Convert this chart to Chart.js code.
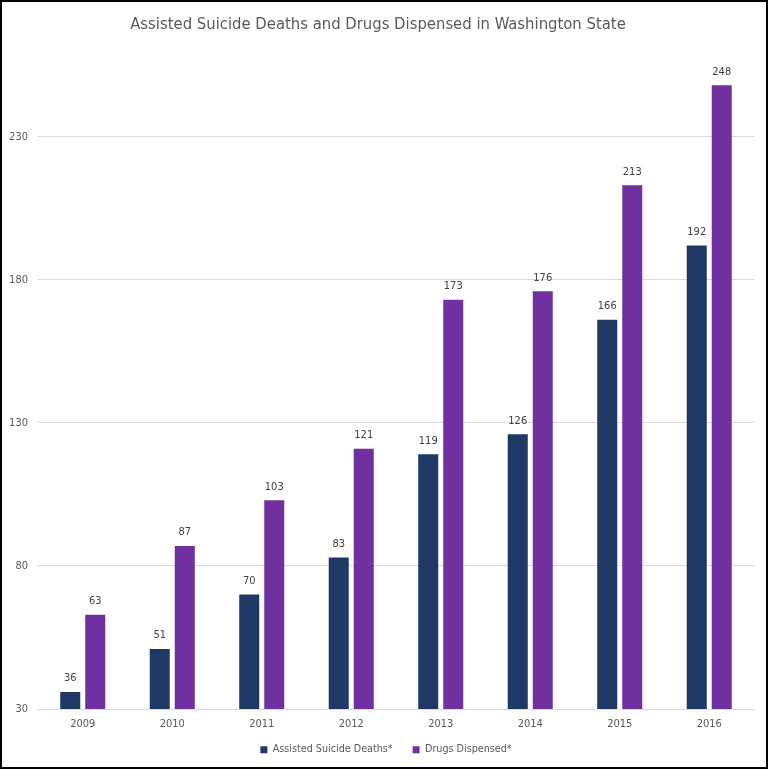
<!DOCTYPE html>
<html>
<head>
<meta charset="utf-8">
<script src="https://cdn.jsdelivr.net/npm/chart.js@4.4.0/dist/chart.umd.min.js"></script>
<style>
html,body{margin:0;padding:0;background:#fff;}
#wrap{position:relative;width:768px;height:769px;box-sizing:border-box;border:2px solid #000;}
canvas{display:block;}
</style>
</head>
<body>
<div id="wrap"><canvas id="c" width="764" height="765"></canvas></div>
<script>
const categories = ['2009','2010','2011','2012','2013','2014','2015','2016'];
const deaths = [36, 51, 70, 83, 119, 126, 166, 192];
const drugs = [63, 87, 103, 121, 173, 176, 213, 248];
const yTicks = [30, 80, 130, 180, 230];
const FONT = "'DejaVu Sans Condensed', sans-serif";

const valueLabels = {
  id: 'valueLabels',
  afterDatasetsDraw(chart) {
    const ctx = chart.ctx;
    ctx.save();
    ctx.font = '11px ' + FONT;
    ctx.fillStyle = '#404040';
    ctx.textAlign = 'center';
    ctx.textBaseline = 'middle';
    chart.data.datasets.forEach((ds, i) => {
      chart.getDatasetMeta(i).data.forEach((bar, j) => {
        ctx.fillText(String(ds.data[j]), bar.x, bar.y - 13.5);
      });
    });
    ctx.restore();
  }
};

const LEG_SHIFT = 6;
const LEG_X = 8;
const legendTweak = {
  id: 'legendTweak',
  beforeLayout(chart) {
    const lg = chart.legend;
    if (lg && !lg._tweaked) {
      const f = lg.fit.bind(lg);
      lg.fit = function() { f(); this.height -= LEG_SHIFT; };
      lg._tweaked = true;
    }
  },
  afterLayout(chart) {
    const lg = chart.legend;
    if (lg) {
      lg.top -= LEG_SHIFT; lg.bottom -= LEG_SHIFT;
      lg.left += LEG_X; lg.right += LEG_X;
    }
  }
};

new Chart(document.getElementById('c'), {
  type: 'bar',
  data: {
    labels: categories,
    datasets: [
      {label: 'Assisted Suicide Deaths*', data: deaths, backgroundColor: '#1F3864', categoryPercentage: 0.559, barPercentage: 0.8},
      {label: 'Drugs Dispensed*', data: drugs, backgroundColor: '#7030A0', categoryPercentage: 0.559, barPercentage: 0.8}
    ]
  },
  options: {
    responsive: false,
    animation: false,
    layout: {padding: {left: 0, right: 12, top: 6, bottom: 2}},
    plugins: {
      title: {display: true, text: 'Assisted Suicide Deaths and Drugs Dispensed in Washington State',
        color: '#595959', font: {family: FONT, size: 16.5, weight: 'normal'}, padding: {top: 7, bottom: 16}},
      legend: {position: 'bottom',
        labels: {boxWidth: 7, boxHeight: 7, color: '#595959', font: {family: FONT, size: 10.7}, padding: 20}},
      tooltip: {enabled: false}
    },
    scales: {
      x: {
        grid: {display: false},
        border: {color: '#D9D9D9'},
        ticks: {color: '#595959', font: {family: FONT, size: 11}, padding: 0}
      },
      y: {
        min: 30, max: 260,
        afterBuildTicks(axis) { axis.ticks = yTicks.map(v => ({value: v})); },
        afterFit(axis) { axis.width = 36; },
        grid: {color: '#D9D9D9', drawTicks: false},
        border: {display: false},
        ticks: {color: '#595959', font: {family: FONT, size: 11}, padding: 10}
      }
    }
  },
  plugins: [valueLabels, legendTweak]
});
</script>
</body>
</html>
